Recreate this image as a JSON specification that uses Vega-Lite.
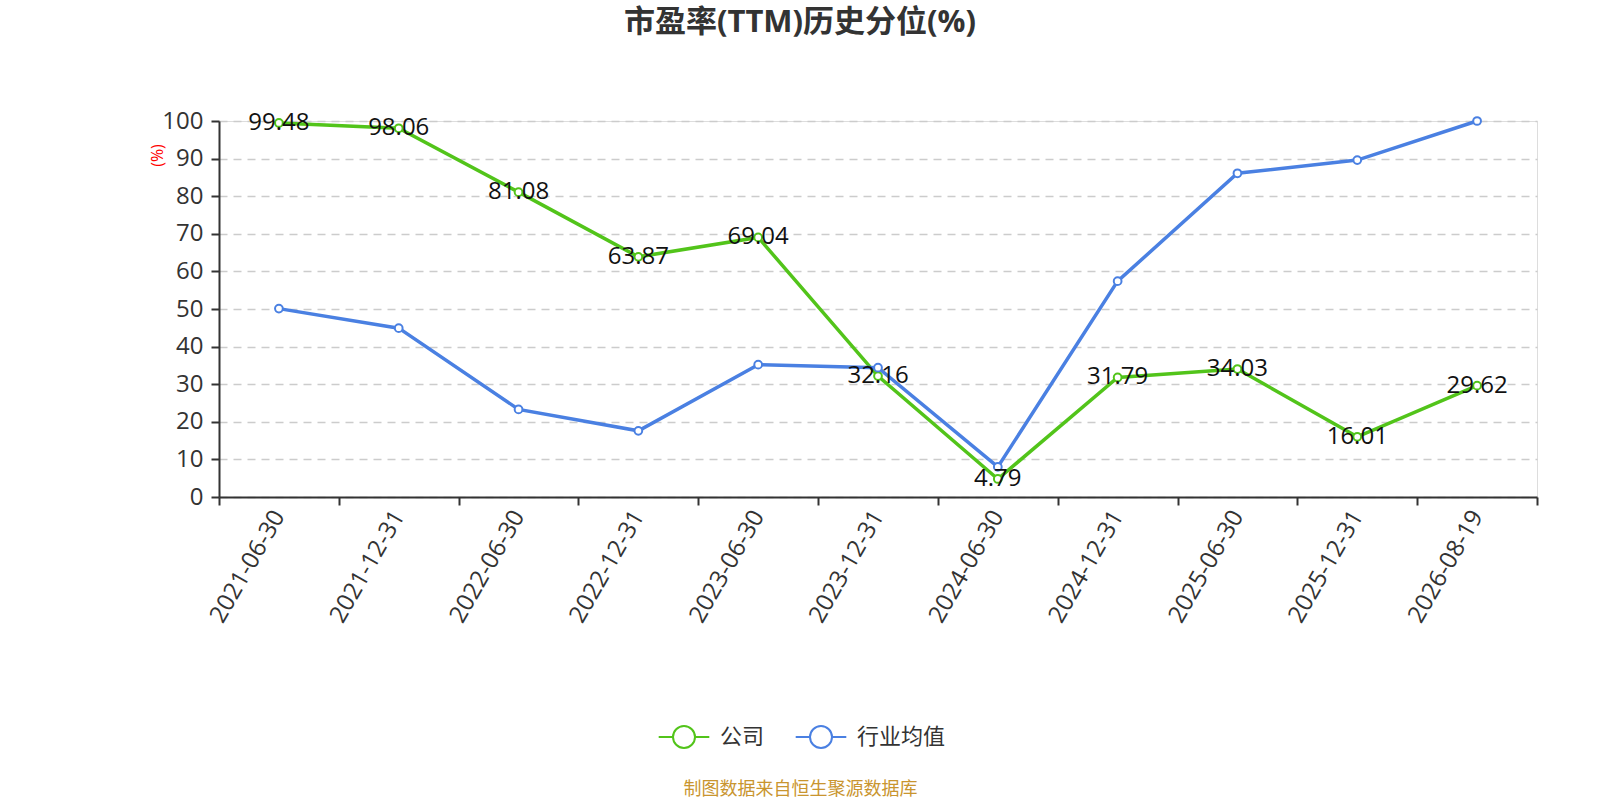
{
  "$schema": "https://vega.github.io/schema/vega-lite/v6.json",
  "description": "市盈率(TTM)历史分位(%)",
  "autosize": "none",
  "width": 1318,
  "height": 376,
  "padding": {"left": 219, "top": 121, "right": 63, "bottom": 303},
  "background": "white",
  "title": {
    "text": "市盈率(TTM)历史分位(%)",
    "anchor": "middle",
    "dx": -78,
    "offset": 70,
    "fontSize": 31,
    "fontWeight": "bold",
    "color": "#333333",
    "font": "Open Sans, Noto Sans CJK SC"
  },
  "data": {
    "values": [
      {"date": "2021-06-30", "series": "公司", "value": 99.48},
      {"date": "2021-12-31", "series": "公司", "value": 98.06},
      {"date": "2022-06-30", "series": "公司", "value": 81.08},
      {"date": "2022-12-31", "series": "公司", "value": 63.87},
      {"date": "2023-06-30", "series": "公司", "value": 69.04},
      {"date": "2023-12-31", "series": "公司", "value": 32.16},
      {"date": "2024-06-30", "series": "公司", "value": 4.79},
      {"date": "2024-12-31", "series": "公司", "value": 31.79},
      {"date": "2025-06-30", "series": "公司", "value": 34.03},
      {"date": "2025-12-31", "series": "公司", "value": 16.01},
      {"date": "2026-08-19", "series": "公司", "value": 29.62},
      {"date": "2021-06-30", "series": "行业均值", "value": 50.1},
      {"date": "2021-12-31", "series": "行业均值", "value": 44.9},
      {"date": "2022-06-30", "series": "行业均值", "value": 23.3},
      {"date": "2022-12-31", "series": "行业均值", "value": 17.6},
      {"date": "2023-06-30", "series": "行业均值", "value": 35.2},
      {"date": "2023-12-31", "series": "行业均值", "value": 34.4},
      {"date": "2024-06-30", "series": "行业均值", "value": 8.0},
      {"date": "2024-12-31", "series": "行业均值", "value": 57.4},
      {"date": "2025-06-30", "series": "行业均值", "value": 86.1},
      {"date": "2025-12-31", "series": "行业均值", "value": 89.6},
      {"date": "2026-08-19", "series": "行业均值", "value": 100}
    ]
  },
  "encoding": {
    "x": {
      "field": "date",
      "type": "ordinal",
      "scale": {"type": "band", "paddingInner": 0, "paddingOuter": 0},
      "axis": {
        "title": "制图数据来自恒生聚源数据库",
        "titleColor": "#c9952f",
        "titleFontSize": 18,
        "titleFontWeight": "normal",
        "titleFont": "Noto Sans CJK SC",
        "titleX": 581,
        "titleY": 292,
        "titleAnchor": null,
        "titleAlign": "center",
        "titleBaseline": "middle",
        "labelAngle": -60,
        "labelAlign": "right",
        "labelBaseline": "middle",
        "labelFontSize": 24,
        "labelColor": "#333333",
        "labelFont": "Open Sans",
        "labelPadding": 7,
        "tickBand": "extent",
        "tickSize": 8,
        "tickColor": "#333333",
        "tickWidth": 2,
        "domainColor": "#333333",
        "domainWidth": 2,
        "grid": false
      }
    },
    "y": {
      "field": "value",
      "type": "quantitative",
      "scale": {"domain": [0, 100], "nice": false},
      "axis": {
        "title": "(%)",
        "titleColor": "red",
        "titleFontSize": 16,
        "titleFontWeight": "normal",
        "titleFont": "Open Sans",
        "titleX": -62,
        "titleY": 34,
        "titleAlign": "center",
        "titleBaseline": "middle",
        "titleAngle": -90,
        "values": [0, 10, 20, 30, 40, 50, 60, 70, 80, 90, 100],
        "labelFontSize": 24,
        "labelColor": "#333333",
        "labelFont": "Open Sans",
        "labelPadding": 8,
        "tickSize": 8,
        "tickColor": "#333333",
        "tickWidth": 2,
        "domainColor": "#333333",
        "domainWidth": 2,
        "grid": true,
        "gridColor": "#cccccc",
        "gridDash": [8, 6],
        "gridWidth": 1.5
      }
    }
  },
  "layer": [
    {
      "mark": {"type": "line", "strokeWidth": 3.5},
      "encoding": {
        "color": {
          "field": "series",
          "type": "nominal",
          "scale": {"domain": ["公司", "行业均值"], "range": ["#52c41a", "#4a80e2"]},
          "legend": {
            "title": null,
            "orient": "none",
            "direction": "horizontal",
            "legendX": 453,
            "legendY": 604,
            "symbolType": "M-2.3,0L-1,0M1,0L2.3,0M1,0A1,1,0,1,1,-1,0A1,1,0,1,1,1,0",
            "symbolSize": 484,
            "symbolStrokeWidth": 2,
            "symbolFillColor": "white",
            "labelFontSize": 22,
            "labelColor": "#333333",
            "labelFont": "Noto Sans CJK SC",
            "labelOffset": 24,
            "columnPadding": 26,
            "encode": {"symbols": {"update": {"fill": {"value": "white"}}}}
          }
        }
      }
    },
    {
      "mark": {"type": "point", "filled": true, "fill": "white", "size": 60, "strokeWidth": 2, "opacity": 1},
      "encoding": {
        "stroke": {"field": "series", "type": "nominal", "scale": {"domain": ["公司", "行业均值"], "range": ["#52c41a", "#4a80e2"]}, "legend": null}
      }
    },
    {
      "transform": [{"filter": "datum.series == '公司'"}],
      "mark": {"type": "text", "fontSize": 24, "font": "Open Sans", "color": "#111111", "align": "center", "baseline": "middle"},
      "encoding": {"text": {"field": "value", "type": "quantitative", "format": ".2f"}}
    }
  ]
}
